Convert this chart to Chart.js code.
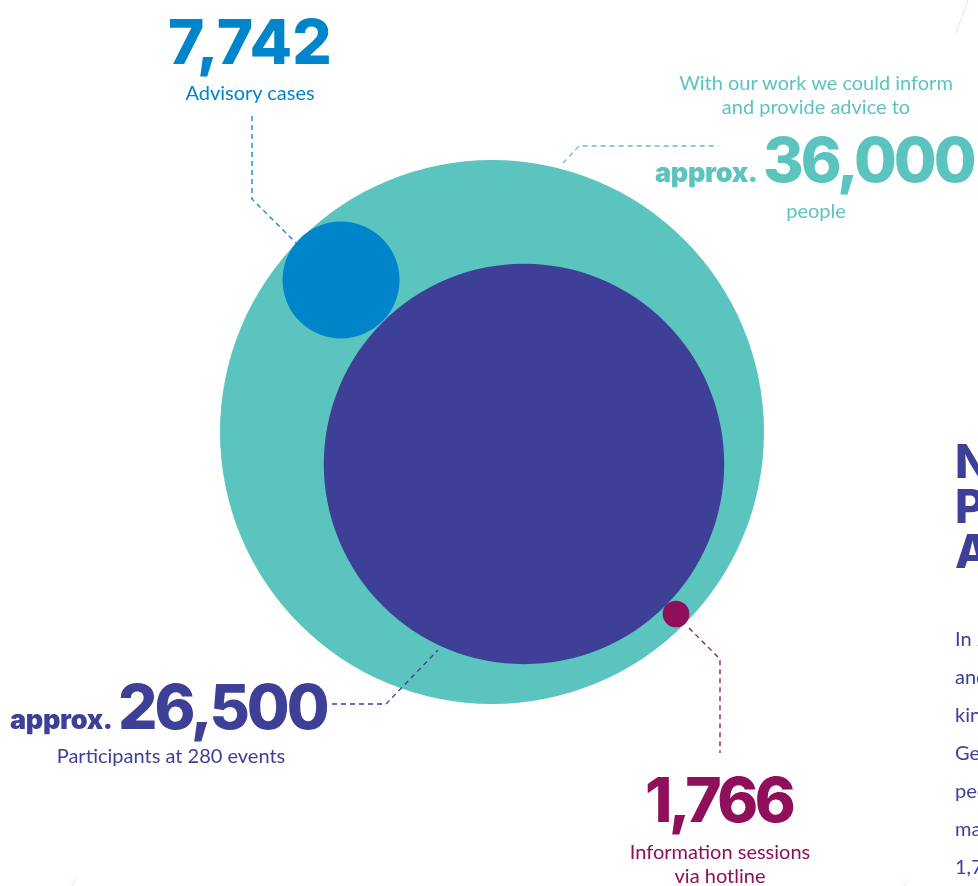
<!DOCTYPE html>
<html lang="en">
<head>
    <meta charset="UTF-8">
    <title>Reach</title>
    <script src="https://cdn.jsdelivr.net/npm/chart.js@4.4.1/dist/chart.umd.min.js"></script>
    <style>
        html, body { margin: 0; padding: 0; background: #fff; }
        #page { position: relative; width: 978px; height: 886px; overflow: hidden; }
        #chart { position: absolute; left: 0; top: 0; }
        .lbl {
            position: absolute; white-space: nowrap; line-height: 1;
            font-family: Lato, "Noto Sans", sans-serif; font-size: 20px;
            transform: translateX(-50%);
        }
        .big {
            position: absolute; white-space: nowrap; line-height: 1;
            font-family: Inter, sans-serif; font-weight: 800; font-size: 62px;
            letter-spacing: -3px;
        }
        .approx {
            position: absolute; white-space: nowrap; line-height: 1;
            font-family: Inter, sans-serif; font-weight: 900; font-size: 27px;
            letter-spacing: -0.3px;
        }
        .side { position: absolute; left: 955px; color: #3E3F96; white-space: nowrap; line-height: 1; }
        .side.h { font-family: Inter, sans-serif; font-weight: 800; font-size: 46px; }
        .side.p { font-family: Lato, sans-serif; font-size: 20px; }
    </style>
</head>
<body>
<div id="page">
    <canvas id="chart" width="978" height="886"></canvas>

    <!-- labels -->
    <div class="big" style="left:168px; top:11px; color:#0085CA; letter-spacing:0px">7,742</div>
    <div class="lbl" style="left:250px; top:82px; color:#0085CA">Advisory cases</div>

    <div class="lbl" style="left:816px; top:72px; color:#5BC4BF">With our work we could inform</div>
    <div class="lbl" style="left:816px; top:96px; color:#5BC4BF">and provide advice to</div>
    <div class="approx" style="left:655px; top:159px; color:#5BC4BF">approx.</div>
    <div class="big" style="left:763px; top:129px; color:#5BC4BF">36,000</div>
    <div class="lbl" style="left:816px; top:200px; color:#5BC4BF">people</div>

    <div class="approx" style="left:10px; top:706px; color:#3E3F96">approx.</div>
    <div class="big" style="left:118px; top:676px; color:#3E3F96">26,500</div>
    <div class="lbl" style="left:171px; top:745px; color:#3E3F96">Participants at 280 events</div>

    <div class="big" style="left:645px; top:769px; color:#8F0F5A; letter-spacing:-3.5px">1,766</div>
    <div class="lbl" style="left:720px; top:841px; color:#8F0F5A">Information sessions</div>
    <div class="lbl" style="left:720px; top:865px; color:#8F0F5A">via hotline</div>

    <!-- cut-off text of the neighbouring column -->
    <div class="side h" style="top:438px">New</div>
    <div class="side h" style="top:483px">Partners</div>
    <div class="side h" style="top:528px">And</div>
    <div class="side p" style="top:628px">In 2022</div>
    <div class="side p" style="top:666px">and</div>
    <div class="side p" style="top:704px">kind</div>
    <div class="side p" style="top:742px">Germany</div>
    <div class="side p" style="top:780px">people</div>
    <div class="side p" style="top:818px">many</div>
    <div class="side p" style="top:856px">1,766</div>
</div>

<script>
    // values
    const labels = ['People informed and advised', 'Advisory cases', 'Participants at 280 events', 'Information sessions via hotline'];
    const values = [36000, 7742, 26500, 1766];
    // where each circle sits, in people units, relative to the centre of the big circle
    const posX = [0, -19985, 4235, 24353];
    const posY = [0, 20118, -4235, -24088];
    const colors = ['#5BC4BF', '#0085CA', '#3E3F96', '#8F0F5A'];

    // dashed leader lines (pixels) + faint page decorations
    const leaders = [
        { color: '#0085CA', pts: [[252, 116], [252, 199], [296, 243]] },
        { color: '#5BC4BF', pts: [[563, 163], [579, 146], [718, 146]] },
        { color: '#3E3F96', pts: [[332, 704], [386, 704], [438, 650]] },
        { color: '#8F0F5A', pts: [[689, 628], [720, 659], [720, 753]] }
    ];

    const leaderPlugin = {
        id: 'leaders',
        afterDraw(chart) {
            const ctx = chart.ctx;
            ctx.save();
            ctx.lineWidth = 1.3;
            ctx.setLineDash([5, 4]);
            leaders.forEach(l => {
                ctx.strokeStyle = l.color;
                ctx.beginPath();
                l.pts.forEach((p, i) => i ? ctx.lineTo(p[0], p[1]) : ctx.moveTo(p[0], p[1]));
                ctx.stroke();
            });
            ctx.setLineDash([]);
            ctx.strokeStyle = '#F8D9E3';
            ctx.lineWidth = 1;
            [[[968, 0], [956, 33]], [[76, 878], [72, 886]], [[906, 882], [904, 886]]].forEach(s => {
                ctx.beginPath();
                ctx.moveTo(s[0][0], s[0][1]);
                ctx.lineTo(s[1][0], s[1][1]);
                ctx.stroke();
            });
            ctx.restore();
        }
    };

    const ctx = document.getElementById('chart').getContext('2d');
    new Chart(ctx, {
        type: 'scatter',
        data: {
            labels: labels,
            datasets: [{
                data: values.map((v, i) => ({ x: posX[i], y: posY[i] })),
                backgroundColor: colors,
                borderWidth: 0,
                pointRadius: c => {
                    const s = c.chart.scales.x;
                    return Math.abs(s.getPixelForValue(values[c.dataIndex]) - s.getPixelForValue(0));
                },
                clip: false
            }]
        },
        options: {
            responsive: false,
            animation: false,
            events: [],
            layout: { padding: 0 },
            plugins: { legend: { display: false }, tooltip: { enabled: false } },
            scales: {
                x: { type: 'linear', display: false, min: -65118, max: 64324 },
                y: { type: 'linear', display: false, min: -60088, max: 57176 }
            }
        },
        plugins: [leaderPlugin]
    });
</script>
</body>
</html>
